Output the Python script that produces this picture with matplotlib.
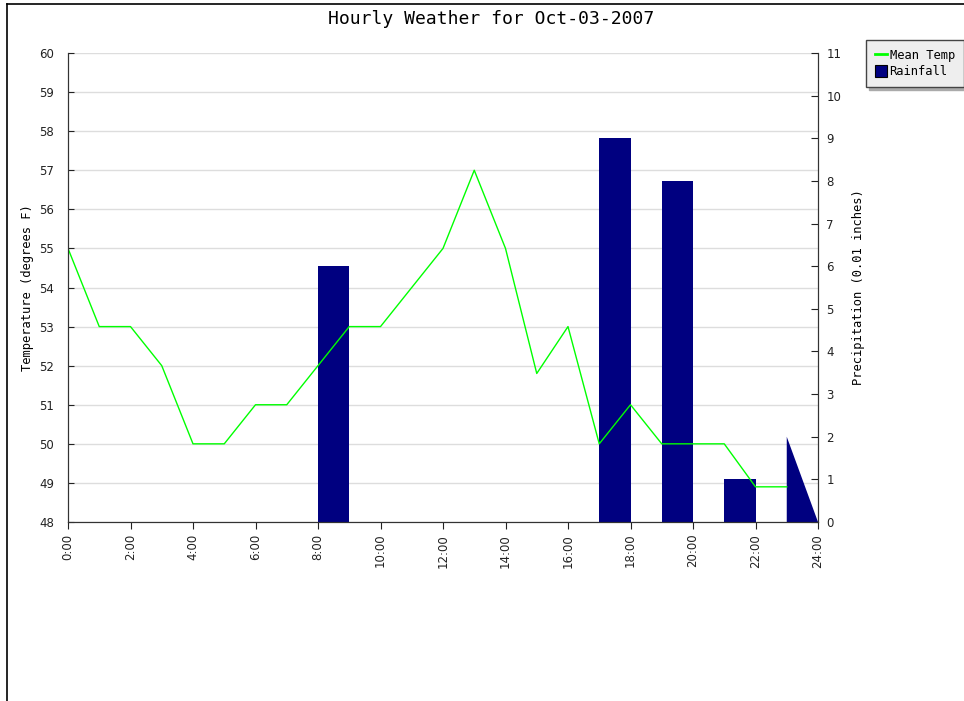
import matplotlib.pyplot as plt
import matplotlib.transforms as mtransforms
from matplotlib.lines import Line2D
from matplotlib.patches import Rectangle

# datos por hora
horas = list(range(24))
temp_media = [55, 53, 53, 52, 50, 50, 51, 51, 52, 53, 53, 54,
              55, 57, 55, 51.8, 53, 50, 51, 50, 50, 50, 48.9, 48.9]
lluvia = [0, 0, 0, 0, 0, 0, 0, 0, 6, 0, 0, 0,
          0, 0, 0, 0, 0, 9, 0, 8, 0, 1, 0, 2]
ticks_x = list(range(0, 25, 2))
etiquetas_x = ["%d:00" % h for h in ticks_x]
ticks_temp = list(range(48, 61))
ticks_lluvia = list(range(0, 12))

verde = '#00ff00'
azul = '#000080'
mono = 'DejaVu Sans Mono'

fig = plt.figure(figsize=(9.64, 7.01), dpi=100)
fig.patch.set_facecolor('white')

ax2 = fig.add_axes([68 / 964, 1 - 522 / 701, 750 / 964, 469 / 701])
ax = ax2.twinx()
ax.set_zorder(ax2.get_zorder() + 1)
ax.patch.set_visible(False)

# rejilla (valores de temperatura) bajo las barras
trans = mtransforms.blended_transform_factory(ax2.transAxes, ax.transData)
for t in ticks_temp:
    ax2.add_line(Line2D([0, 1], [t, t], transform=trans, color='#dddddd', lw=1, zorder=0))

# barras de lluvia, la ultima se dibuja como triangulo
ax2.bar(horas[:-1], lluvia[:-1], width=1, align='edge', color=azul, zorder=2)
h = horas[-1]
ax2.fill([h, h, h + 1], [0, lluvia[-1], 0], color=azul, lw=0, zorder=2)

# temperatura
ax.plot(horas, temp_media, color=verde, lw=1)

ax2.set_xlim(0, 24)
ax2.set_ylim(0, 11)
ax.set_ylim(48, 60)

# el eje de temperatura va a la izquierda
ax.yaxis.set_label_position('left')
ax.yaxis.tick_left()
ax2.yaxis.set_label_position('right')
ax2.yaxis.tick_right()

ax.set_yticks(ticks_temp)
ax2.set_yticks(ticks_lluvia)
ax2.set_xticks(ticks_x)
ax2.set_xticklabels(etiquetas_x, rotation=90, fontsize=8.5)

ax.tick_params(axis='y', direction='in', length=4, labelsize=8.5, colors='#222222', pad=10)
ax2.tick_params(axis='y', direction='in', length=5, labelsize=8.5, colors='#222222', pad=6)
ax2.tick_params(axis='x', direction='out', length=5, colors='#222222')

for a in (ax, ax2):
    a.spines['top'].set_visible(False)
    for s in ('left', 'right', 'bottom'):
        a.spines[s].set_color('#333333')

ax.set_ylabel('Temperature (degrees F)', family=mono, fontsize=8.7, labelpad=4)
ax2.set_ylabel('Precipitation (0.01 inches)', family=mono, fontsize=8.7, labelpad=8)

fig.text(491 / 964, 1 - 19 / 701, 'Hourly Weather for Oct-03-2007', family=mono,
         fontsize=13, ha='center', va='center')

# leyenda
manejadores = [Line2D([], [], color=verde, lw=2),
               Rectangle((0, 0), 1, 1, facecolor=azul, edgecolor='black', lw=0.8)]
leg = fig.legend(manejadores, ['Mean Temp', 'Rainfall'], loc='upper left',
                 bbox_to_anchor=(866 / 964, 1 - 40 / 701), prop={'family': mono, 'size': 8.7},
                 frameon=True, fancybox=False, shadow={'color': '#aaaaaa', 'alpha': 1},
                 handlelength=1.0, handleheight=1.2, handletextpad=0.2, borderpad=0.75,
                 labelspacing=0.2, borderaxespad=0)
leg.get_frame().set_facecolor('#eeeeee')
leg.get_frame().set_edgecolor('#444444')
leg.get_frame().set_alpha(1)

# marco de la imagen
fig.add_artist(Line2D([7 / 964, 7 / 964], [0, 1 - 4 / 701], color='black', lw=1.2))
fig.add_artist(Line2D([7 / 964, 1], [1 - 4 / 701, 1 - 4 / 701], color='black', lw=1.2))

fig.savefig('out.png', dpi=100)
